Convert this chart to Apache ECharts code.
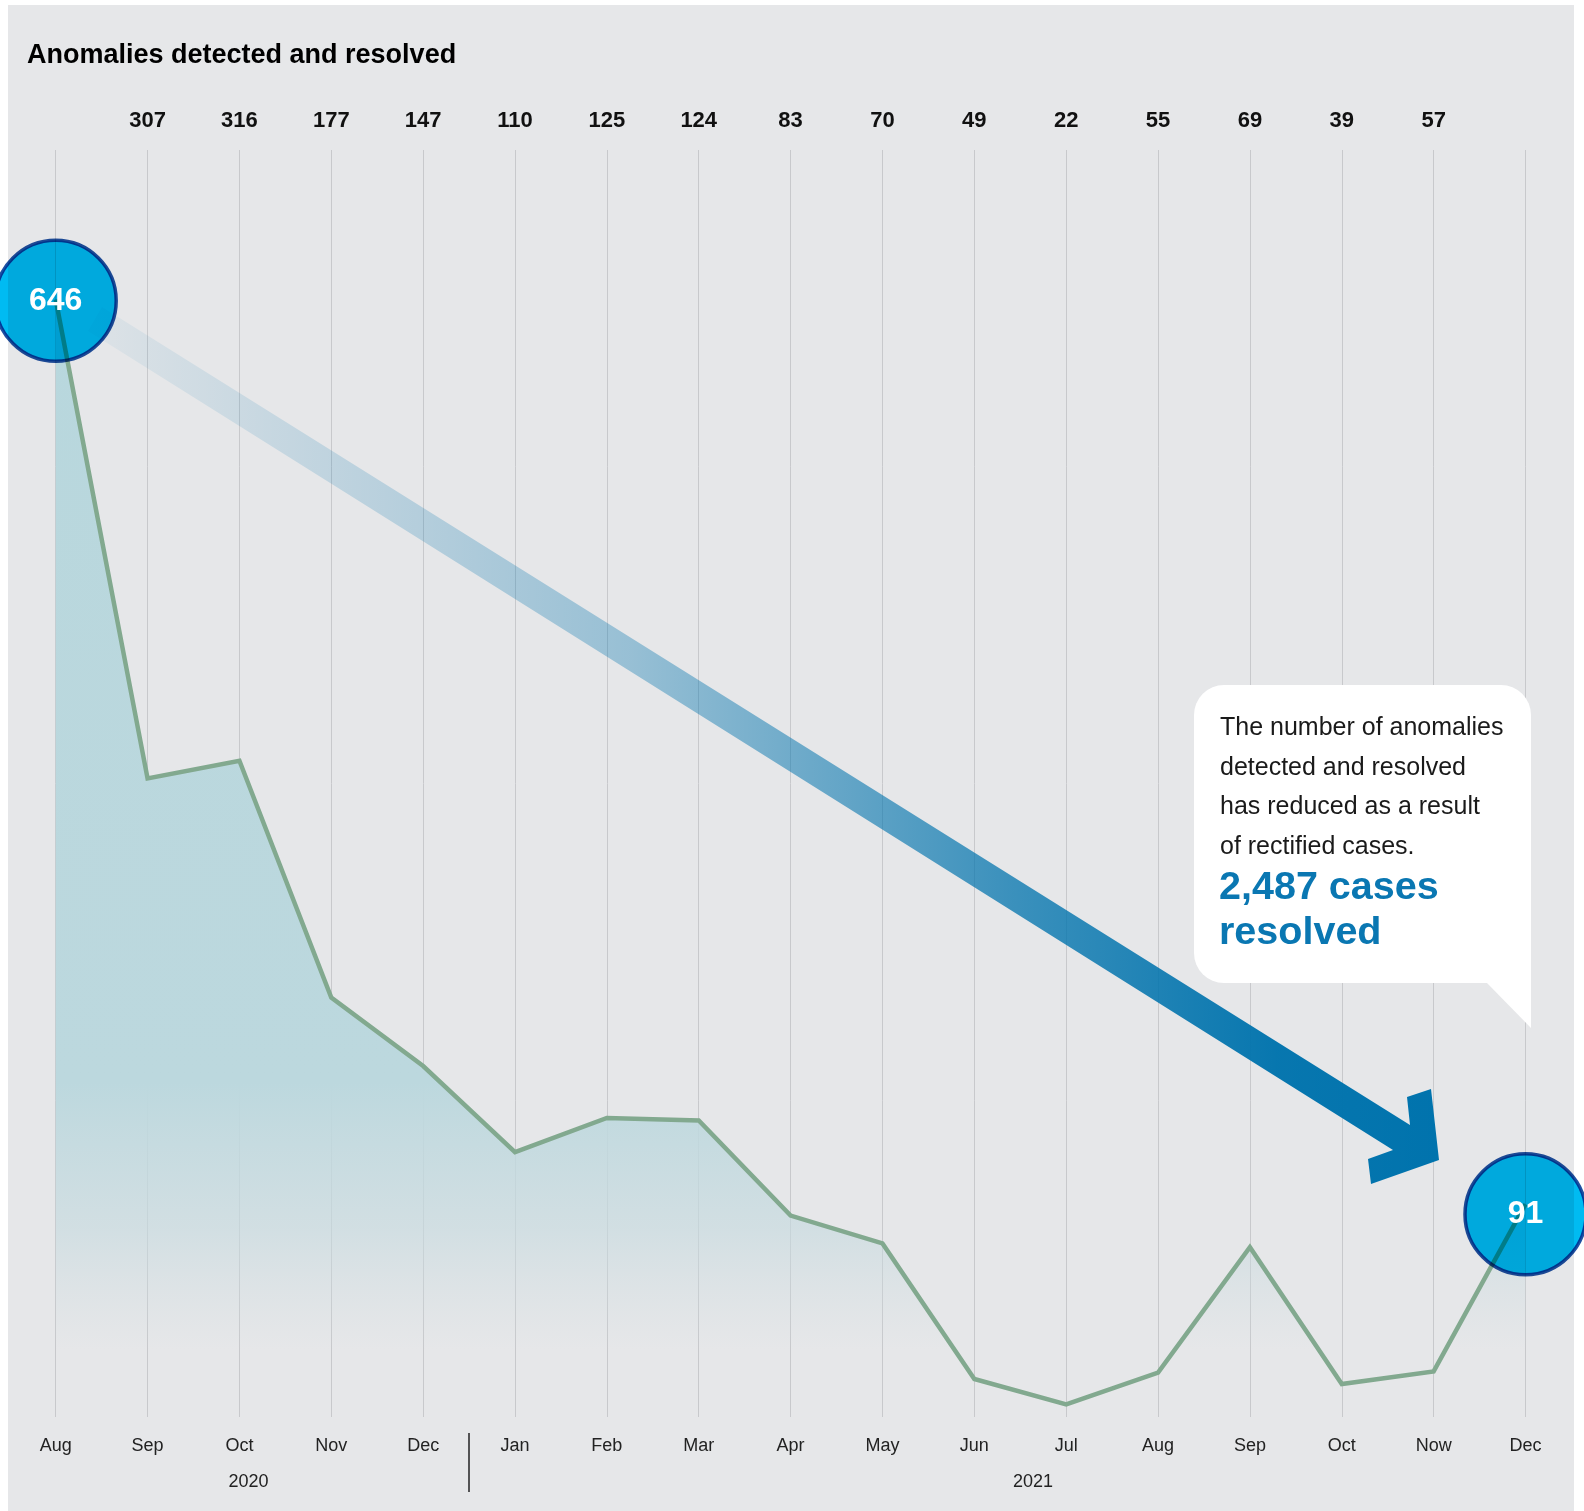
<!DOCTYPE html>
<html>
<head>
<meta charset="utf-8">
<script src="https://cdn.jsdelivr.net/npm/echarts@6/dist/echarts.min.js"></script>
<style>
html,body{margin:0;padding:0;background:#ffffff;}
#c{width:1584px;height:1511px;}
</style>
</head>
<body>
<div id="c"></div>
<script>
// ---- data ----
const months = ['Aug','Sep','Oct','Nov','Dec','Jan','Feb','Mar','Apr','May','Jun','Jul','Aug','Sep','Oct','Now','Dec'];
const years = ['2020','2021'];
const cases = [646,307,316,177,147,110,125,124,83,70,49,22,55,69,39,57,91];
// height of the drawn line (0 = axis, 100 = top of plot)
const lineLevel = [88.2,50.4,51.8,33.1,27.7,20.9,23.6,23.4,15.9,13.7,3.0,1.0,3.5,13.4,2.6,3.6,16.8];
// height of the two value badges (first and last month)
const badgeLevel = [88.1,16.0];
const titleText = 'Anomalies detected and resolved';
const noteLines = ['The number of anomalies','detected and resolved','has reduced as a result','of rectified cases.'];
const highlightLines = ['2,487 cases','resolved'];

const FONT = "'Liberation Sans', Arial, Helvetica, sans-serif";
const last = cases.length - 1;
const topLabels = cases.map((v, i) => (i === 0 || i === last) ? '' : String(v));
const badgeIdx = [0, last];

const chart = echarts.init(document.getElementById('c'), null, {renderer: 'canvas'});

const option = {
  backgroundColor: '#ffffff',
  animation: false,
  textStyle: {fontFamily: FONT},
  grid: {left: 55.7, right: 58.5, top: 150, bottom: 94, containLabel: false},
  xAxis: [
    {
      type: 'category', data: months, boundaryGap: false, position: 'bottom',
      axisLine: {show: false}, axisTick: {show: false},
      axisLabel: {color: '#222', fontSize: 18, fontFamily: FONT, margin: 20, lineHeight: 18, interval: 0},
      splitLine: {show: true, lineStyle: {color: '#c8c9cc', width: 1}}
    },
    {
      type: 'category', data: topLabels, boundaryGap: false, position: 'top',
      axisLine: {show: false}, axisTick: {show: false}, splitLine: {show: false},
      axisLabel: {color: '#111', fontSize: 22, fontWeight: 'bold', fontFamily: FONT, margin: 18, lineHeight: 22, interval: 0}
    }
  ],
  yAxis: {type: 'value', min: 0, max: 100, show: false, splitLine: {show: false}},
  series: [
    {
      type: 'line', data: lineLevel, xAxisIndex: 0, z: 4,
      showSymbol: false, symbol: 'none',
      lineStyle: {color: '#82a98f', width: 4.5, join: 'miter'},
      areaStyle: {
        opacity: 1,
        color: {type: 'linear', x: 0, y: 0, x2: 0, y2: 1, colorStops: [
          {offset: 0, color: 'rgba(184,215,221,1)'},
          {offset: 0.7, color: 'rgba(188,216,222,1)'},
          {offset: 0.83, color: 'rgba(198,218,223,0.65)'},
          {offset: 0.94, color: 'rgba(208,220,224,0)'},
          {offset: 1, color: 'rgba(208,220,224,0)'}
        ]}
      }
    },
    {
      type: 'scatter', z: 6, blendMode: 'multiply',
      data: badgeIdx.map((i, k) => [i, badgeLevel[k]]),
      symbol: 'circle', symbolSize: 121,
      itemStyle: {color: '#00bbf2', borderColor: '#1f50a2', borderWidth: 3.5, opacity: 1},
      label: {show: false}, emphasis: {disabled: true}
    },
    {
      type: 'scatter', zlevel: 1, z: 7,
      data: badgeIdx.map((i, k) => [i, badgeLevel[k], cases[i]]),
      symbol: 'circle', symbolSize: 1,
      itemStyle: {color: 'rgba(0,0,0,0)'},
      label: {show: true, position: 'inside', formatter: p => String(p.value[2]),
              color: '#ffffff', opacity: 1, fontSize: 32, fontWeight: 'bold', fontFamily: FONT},
      emphasis: {disabled: true}
    }
  ],
  graphic: [
    {type: 'rect', z: -100, silent: true, shape: {x: 8, y: 5, width: 1566, height: 1506}, style: {fill: '#e6e7e9'}},
    {type: 'text', z: 10, silent: true, style: {text: titleText, x: 27, y: 56, verticalAlign: 'middle', align: 'left',
      font: 'bold 27px ' + FONT, fill: '#000'}},
    // trend arrow
    {type: 'polygon', z: 3, silent: true,
      shape: {points: [[102,307],[1410,1125],[1407,1097],[1431,1089],[1439,1160],[1371,1184],[1368,1159],[1393,1150],[88,331]]},
      style: {fill: {type: 'linear', x: 0, y: 0, x2: 1, y2: 0, colorStops: [
        {offset: 0, color: 'rgba(0,115,173,0.04)'},
        {offset: 0.25, color: 'rgba(0,115,173,0.22)'},
        {offset: 0.4, color: 'rgba(0,115,173,0.34)'},
        {offset: 0.68, color: 'rgba(0,115,173,0.74)'},
        {offset: 0.88, color: 'rgba(0,115,173,0.97)'},
        {offset: 1, color: 'rgba(0,115,173,1)'}
      ]}}},
    // callout
    {type: 'rect', z: 8, silent: true, shape: {x: 1194, y: 685, width: 337, height: 298, r: [30, 30, 0, 30]}, style: {fill: '#ffffff'}},
    {type: 'polygon', z: 8, silent: true, shape: {points: [[1486,982],[1531,982],[1531,1028]]}, style: {fill: '#ffffff'}},
    ...noteLines.map((t, k) => ({type: 'text', z: 9, silent: true,
      style: {text: t, x: 1220, y: 728 + k * 39.7, verticalAlign: 'middle', align: 'left', font: '25px ' + FONT, fill: '#1a1a1a'}})),
    ...highlightLines.map((t, k) => ({type: 'text', z: 9, silent: true,
      style: {text: t, x: 1219, y: 888 + k * 45, verticalAlign: 'middle', align: 'left', font: 'bold 39.5px ' + FONT, fill: '#0a77b2'}})),
    // years
    {type: 'text', z: 10, silent: true, style: {text: years[0], x: 248.5, y: 1482, verticalAlign: 'middle', align: 'center', font: '18px ' + FONT, fill: '#222'}},
    {type: 'text', z: 10, silent: true, style: {text: years[1], x: 1033, y: 1482, verticalAlign: 'middle', align: 'center', font: '18px ' + FONT, fill: '#222'}},
    {type: 'line', z: 10, silent: true, shape: {x1: 469, y1: 1433, x2: 469, y2: 1492}, style: {stroke: '#222', lineWidth: 1.5}}
  ]
};
chart.setOption(option);
</script>
</body>
</html>
